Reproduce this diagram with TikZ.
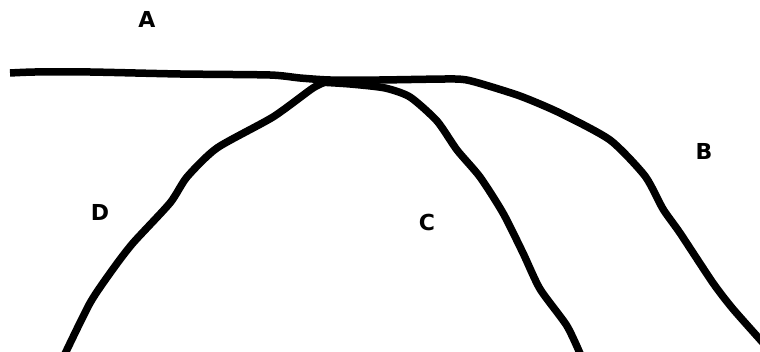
\documentclass[tikz,border=0pt]{standalone}
\usepackage{fontspec}
\setmainfont{DejaVu Sans}
\begin{document}
\begin{tikzpicture}[x=1pt,y=-1pt,
  stroke/.style={line width=7.5pt,line join=round,line cap=butt,black},
  lbl/.style={font=\bfseries\fontsize{22}{26}\selectfont,inner sep=0pt}]
\useasboundingbox (0,0) rectangle (760,352);
\clip (0,0) rectangle (760,352);
% line A continuing into B
\draw[stroke] plot[smooth,tension=0.4] coordinates {(10,73) (35,72) (90,72) (180,74) (270,75) (300,78) (330,80) (380,80) (455,79) (475,82) (520,96) (560,113) (610,140) (645,176) (663,209) (680,233) (713,283) (733,309) (765,345)};
% line C
\draw[stroke] plot[smooth,tension=0.4] coordinates {(318,82) (350,84) (385,88) (410,97) (437,121) (457,150) (480,177) (503,213) (523,253) (540,289) (567,326) (582,358)};
% line D
\draw[stroke] plot[smooth,tension=0.4] coordinates {(328,81) (313,88) (273,117) (217,148) (187,177) (170,203) (133,243) (113,269) (90,303) (63,358)};
\node[lbl] (A) at (147,19) {A};
\node[lbl] (B) at (704,151) {B};
\node[lbl] (C) at (427,222) {C};
\node[lbl] (D) at (100,212) {D};
\end{tikzpicture}
\end{document}
